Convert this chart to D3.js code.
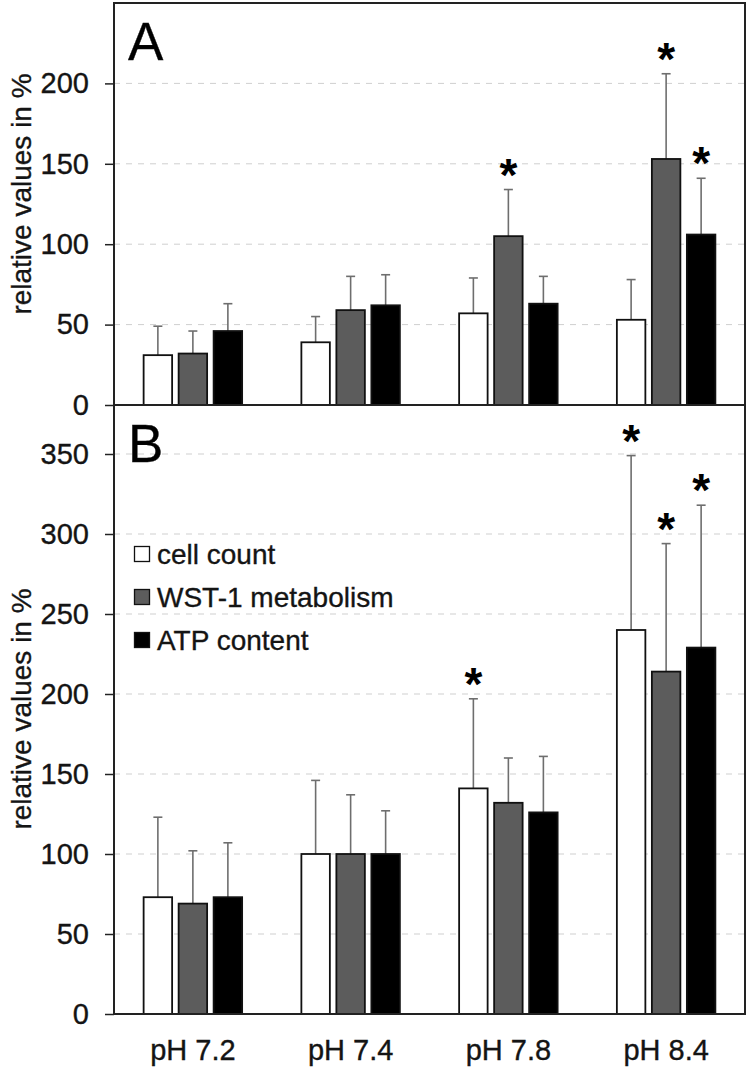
<!DOCTYPE html>
<html><head><meta charset="utf-8">
<script src="https://cdn.jsdelivr.net/npm/d3@7"></script>
<style>
html,body{margin:0;padding:0;background:#fff;}
svg{display:block;font-family:"Liberation Sans",Arial,sans-serif;}
.t{stroke:#141414;stroke-width:0.35px;}
</style></head>
<body><svg id="c" width="750" height="1069"></svg>
<script>
const categories = ["pH 7.2","pH 7.4","pH 7.8","pH 8.4"];
const seriesNames = ["cell count","WST-1 metabolism","ATP content"];
const seriesColors = ["#ffffff","#5c5c5c","#000000"];
// Panel A
const aCell = [31, 39, 57, 53];
const aCellErr = [49, 55, 79, 78];
const aWst = [32, 59, 105, 153];
const aWstErr = [46, 80, 134, 206];
const aAtp = [46, 62, 63, 106];
const aAtpErr = [63, 81, 80, 141];
const aStars = [[0,0,0],[0,0,0],[0,1,0],[0,1,1]];
const aTicks = [0,50,100,150,200];
// Panel B
const bCell = [73, 100, 141, 240];
const bCellErr = [123, 146, 197, 349];
const bWst = [69, 100, 132, 214];
const bWstErr = [102, 137, 160, 294];
const bAtp = [73, 100, 126, 229];
const bAtpErr = [107, 127, 161, 318];
const bStars = [[0,0,0],[0,0,0],[1,0,0],[1,1,1]];
const bTicks = [0,50,100,150,200,250,300,350];

const svg = d3.select("#c");
const X0 = 114, X1 = 745;
const x = d3.scaleBand().domain(categories).range([X0, X1]).padding(0);
const xi = d3.scaleBand().domain(d3.range(3)).range([-49.25, 49.25]).paddingInner(0.186);
const TXT = "#141414";

function panel(opts){
  const {yScale, top, bottom, ticks, vals, errs, stars, letter, labelCenter} = opts;
  const g = svg.append("g");
  g.selectAll("line.grid").data(ticks.filter(t=>t>0)).join("line")
    .attr("x1", X0).attr("x2", X1)
    .attr("y1", d=>yScale(d)).attr("y2", d=>yScale(d))
    .attr("stroke", "#cfcfcf").attr("stroke-width", 1).attr("stroke-dasharray", "6,6");
  const ax = d3.axisLeft(yScale).tickValues(ticks).tickSize(9).tickPadding(16).tickFormat(d3.format("d"));
  const axg = g.append("g").attr("transform", `translate(${X0},0)`).call(ax);
  axg.select(".domain").remove();
  axg.selectAll(".tick line").attr("stroke", "#222").attr("stroke-width", 1.5);
  axg.selectAll(".tick text").attr("class", "t").attr("font-size", 29).attr("fill", TXT)
     .attr("font-family", "Liberation Sans, Arial, sans-serif");
  categories.forEach((c, ci) => {
    for (let s = 0; s < 3; s++) {
      const v = vals[s][ci], e = errs[s][ci];
      const bx = x(c) + x.bandwidth()/2 + xi(s);
      const cx = bx + xi.bandwidth()/2;
      g.append("line").attr("x1", cx).attr("x2", cx).attr("y1", yScale(v)).attr("y2", yScale(e))
        .attr("stroke", "#6e6e6e").attr("stroke-width", 1.6);
      g.append("line").attr("x1", cx-4.5).attr("x2", cx+4.5).attr("y1", yScale(e)).attr("y2", yScale(e))
        .attr("stroke", "#6e6e6e").attr("stroke-width", 1.6);
      g.append("rect").attr("x", bx).attr("y", yScale(v)).attr("width", xi.bandwidth())
        .attr("height", yScale(0) - yScale(v))
        .attr("fill", seriesColors[s]).attr("stroke", "#111").attr("stroke-width", 1.8);
      if (stars[ci][s]) {
        g.append("text").attr("x", cx).attr("y", yScale(e) + 1).attr("text-anchor", "middle")
          .attr("font-size", 46).attr("font-weight", "bold").attr("fill", "#000").text("*");
      }
    }
  });
  g.append("rect").attr("x", X0).attr("y", top).attr("width", X1 - X0).attr("height", bottom - top)
    .attr("fill", "none").attr("stroke", "#222").attr("stroke-width", 2);
  g.append("text").attr("x", 128).attr("y", top + 57).attr("font-size", 53).attr("fill", "#000")
    .attr("class", "t").text(letter);
  g.append("text").attr("class", "t").attr("transform", `translate(31,${labelCenter}) rotate(-90)`)
    .attr("text-anchor", "middle").attr("font-size", 28)
    .attr("fill", TXT).text("relative values in %");
}

const yA = d3.scaleLinear().domain([0, 250]).range([405, 3]);
const yB = d3.scaleLinear().domain([0, 350]).range([1014, 454]);

panel({yScale: yA, top: 3, bottom: 405, ticks: aTicks,
  vals: [aCell, aWst, aAtp], errs: [aCellErr, aWstErr, aAtpErr], stars: aStars, letter: "A", labelCenter: 194});
panel({yScale: yB, top: 405, bottom: 1014, ticks: bTicks,
  vals: [bCell, bWst, bAtp], errs: [bCellErr, bWstErr, bAtpErr], stars: bStars, letter: "B", labelCenter: 709});

svg.append("g").selectAll("text").data(categories).join("text").attr("class", "t")
  .attr("x", d => x(d) + x.bandwidth()/2).attr("y", 1060).attr("text-anchor", "middle")
  .attr("font-size", 29).attr("fill", TXT).text(d => d);

const leg = svg.append("g");
seriesNames.forEach((n, i) => {
  const cy = 554 + i * 43;
  leg.append("rect").attr("x", 134.5).attr("y", cy - 7.5).attr("width", 15).attr("height", 15)
    .attr("fill", seriesColors[i]).attr("stroke", "#111").attr("stroke-width", 1.3);
  leg.append("text").attr("class", "t").attr("x", 157).attr("y", cy + 10).attr("font-size", 28)
    .attr("fill", TXT).text(n);
});
</script></body></html>
